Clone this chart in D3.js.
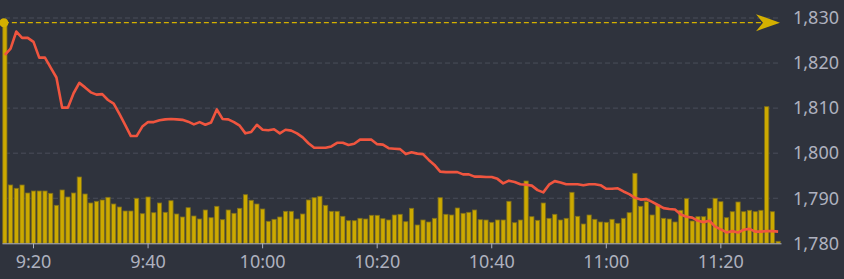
<!DOCTYPE html>
<html>
<head>
<meta charset="utf-8">
<script src="https://cdn.jsdelivr.net/npm/d3@7"></script>
<style>
    html, body { margin: 0; padding: 0; background: #2f333d; }
    svg { display: block; }
    .grid line { stroke: #4a4e5a; stroke-width: 1; stroke-dasharray: 5,3; }
    .price-line { fill: none; stroke: #f0553f; stroke-width: 2.6; stroke-linejoin: round; }
    .bar { fill: #cca900; stroke: #7e6f1c; stroke-width: 0.8; }
    .mark-line { stroke: #d4b000; stroke-width: 1.2; stroke-dasharray: 5,3; }
    .mark-symbol { fill: #d4b000; }
    .axis text { fill: #aeb1bf; font-family: "Noto Sans", sans-serif; font-size: 18px; }
    .axis line, .axis path { stroke: #aeb1bf; }
</style>
</head>
<body>
<div id="chart"></div>
<script>
// Intraday price and volume chart, one bar per minute

let width = 844;
let height = 279;

// plot area
let plotLeft = 2;
let plotRight = 781;
let plotTop = 18;
let plotBottom = 243.3;

// Minutes from 9:15 to 11:30
let times = [];
for (let m = 9 * 60 + 15; m <= 11 * 60 + 30; m++) {
    times.push(Math.floor(m / 60) + ":" + String(m % 60).padStart(2, "0"));
}

// Price per minute
let prices = [
    1821.8, 1823.2, 1827.0, 1825.6, 1825.6, 1824.7, 1821.2, 1821.2, 1819.0, 1816.8,
    1810.1, 1810.1, 1813.3, 1815.6, 1814.6, 1813.5, 1813.0, 1813.1, 1811.8, 1811.0,
    1808.7, 1806.3, 1803.8, 1803.8, 1805.9, 1806.9, 1806.9, 1807.3, 1807.5, 1807.6,
    1807.5, 1807.4, 1807.0, 1806.4, 1806.9, 1806.3, 1806.8, 1809.7, 1807.6, 1807.5,
    1806.9, 1806.1, 1804.4, 1804.7, 1806.3, 1805.2, 1805.1, 1805.3, 1804.4, 1805.2,
    1805.0, 1804.4, 1803.5, 1802.2, 1801.2, 1801.2, 1801.2, 1801.5, 1802.3, 1802.3,
    1801.8, 1802.1, 1803.0, 1803.0, 1803.0, 1802.0, 1801.9, 1801.1, 1801.0, 1800.9,
    1799.8, 1800.2, 1799.9, 1799.8, 1798.5, 1797.4, 1795.9, 1795.8, 1795.8, 1795.8,
    1795.3, 1795.3, 1794.8, 1794.8, 1794.7, 1794.7, 1794.3, 1793.3, 1793.9, 1793.6,
    1793.1, 1793.0, 1792.8, 1791.8, 1791.3, 1793.0, 1793.8, 1793.5, 1793.1, 1793.1,
    1793.1, 1792.9, 1793.1, 1793.1, 1792.9, 1792.1, 1792.1, 1792.2, 1791.5, 1790.9,
    1790.1, 1789.7, 1789.8, 1789.2, 1788.5, 1787.8, 1787.6, 1787.5, 1786.4, 1785.9,
    1785.7, 1785.0, 1784.7, 1785.0, 1783.7, 1783.1, 1782.4, 1782.7, 1782.4, 1783.0,
    1783.2, 1782.6, 1782.6, 1782.7, 1782.7, 1782.6
];

// Volume per minute
let volumes = [
    22060, 5830, 5500, 5830, 5030, 5230, 5230, 5230, 5000, 3800,
    5330, 4630, 5030, 6630, 4930, 4030, 4200, 4330, 4600, 3930,
    3630, 3230, 3230, 4500, 2960, 4630, 3060, 4030, 3100, 4260,
    2930, 2630, 3560, 2730, 2430, 3330, 2560, 3700, 2360, 3330,
    3000, 3500, 4860, 4300, 3930, 3430, 2200, 2400, 2630, 3200,
    3200, 2430, 2930, 4330, 4560, 4700, 3800, 3200, 3200, 2700,
    2260, 2260, 2500, 2430, 2800, 2800, 2460, 2330, 2830, 2900,
    2160, 3500, 1830, 2330, 2130, 2500, 4560, 2900, 2830, 3530,
    3000, 3100, 3330, 2360, 2330, 2100, 2330, 2330, 4200, 2060,
    2330, 6230, 2660, 2300, 4030, 2500, 2900, 2330, 2500, 5100,
    2700, 1930, 2830, 2400, 2130, 2100, 2400, 2000, 2500, 3060,
    7000, 3700, 4160, 2830, 3830, 2500, 2430, 2130, 3300, 4460,
    2230, 2660, 2660, 3500, 4500, 4160, 2560, 3160, 4130, 3160,
    3300, 3160, 3300, 13660, 3160, 200
];

// Axis ticks
let timeTicks = ["9:20", "9:40", "10:00", "10:20", "10:40", "11:00", "11:20"];
let priceTicks = [1780, 1790, 1800, 1810, 1820, 1830];

// Scales
let xScale = d3.scaleBand()
    .domain(times)
    .range([plotLeft, plotRight])
    .padding(0);

let yPrice = d3.scaleLinear()
    .domain([1780, 1830])
    .range([plotBottom, plotTop]);

let yVolume = d3.scaleLinear()
    .domain([0, 22530])
    .range([plotBottom, plotTop]);

let band = xScale.bandwidth();
let barWidth = band * 0.74;

let svg = d3.select("#chart")
    .append("svg")
    .attr("width", width)
    .attr("height", height);

// Dashed grid lines for the price axis
svg.append("g")
    .attr("class", "grid")
    .selectAll("line")
    .data(priceTicks.filter(function (d) { return d !== 1780; }))
    .enter()
    .append("line")
    .attr("x1", plotLeft + 3)
    .attr("x2", plotRight)
    .attr("y1", function (d) { return yPrice(d); })
    .attr("y2", function (d) { return yPrice(d); });

// Volume bars
svg.append("g")
    .selectAll("rect")
    .data(volumes)
    .enter()
    .append("rect")
    .attr("class", "bar")
    .attr("x", function (d, i) { return xScale(times[i]) + (band - barWidth) / 2; })
    .attr("y", function (d) { return yVolume(d); })
    .attr("width", barWidth)
    .attr("height", function (d) { return plotBottom - yVolume(d); });

// Max volume mark line with a dot at the start and an arrow at the end
let maxIndex = d3.maxIndex(volumes);
let markY = yVolume(volumes[maxIndex]);
let markX = xScale(times[maxIndex]) + band / 2 - 1;

svg.append("line")
    .attr("class", "mark-line")
    .attr("x1", markX)
    .attr("x2", plotRight - 6)
    .attr("y1", markY)
    .attr("y2", markY);

svg.append("circle")
    .attr("class", "mark-symbol")
    .attr("cx", markX)
    .attr("cy", markY)
    .attr("r", 4.5);

svg.append("path")
    .attr("class", "mark-symbol")
    .attr("d", "M" + (plotRight - 1) + "," + markY +
        "L" + (plotRight - 25) + "," + (markY - 8.5) +
        "L" + (plotRight - 18) + "," + markY +
        "L" + (plotRight - 25) + "," + (markY + 8.5) + "Z");

// Price line
let priceLine = d3.line()
    .x(function (d, i) { return xScale(times[i]) + band / 2; })
    .y(function (d) { return yPrice(d); });

svg.append("path")
    .datum(prices)
    .attr("class", "price-line")
    .attr("d", priceLine);

// Axes
let xAxis = d3.axisBottom(xScale)
    .tickValues(timeTicks)
    .tickSize(5)
    .tickSizeOuter(0)
    .tickPadding(6);

svg.append("g")
    .attr("class", "axis")
    .attr("transform", "translate(0," + plotBottom + ")")
    .call(xAxis)
    .selectAll("text")
    .attr("dy", "0.75em");

let yAxis = d3.axisRight(yPrice)
    .tickValues(priceTicks)
    .tickFormat(d3.format(","))
    .tickSize(0)
    .tickPadding(12);

svg.append("g")
    .attr("class", "axis")
    .attr("transform", "translate(" + plotRight + ",0)")
    .call(yAxis)
    .call(function (g) { g.select(".domain").remove(); });
</script>
</body>
</html>
